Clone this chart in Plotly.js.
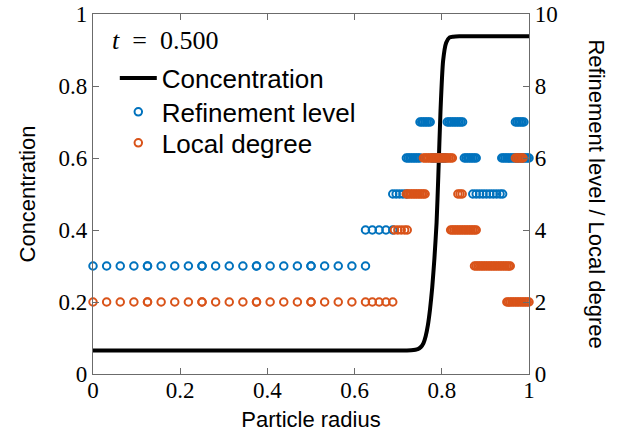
<!DOCTYPE html>
<html>
<head>
<meta charset="utf-8">
<script src="https://cdn.plot.ly/plotly-3.0.1.min.js"></script>
<style>html,body{margin:0;padding:0;background:#fff;}#chart{width:628px;height:443px;}</style>
</head>
<body>
<div id="chart"></div>
<script>
// Concentration profile (left axis)
var concX = [0, 0.70, 0.73, 0.745, 0.752, 0.758, 0.763, 0.768, 0.773, 0.778, 0.783, 0.788, 0.792, 0.797, 0.803, 0.810, 0.818, 0.826, 0.84, 0.9, 1.0];
var concY = [0.065, 0.065, 0.066, 0.069, 0.075, 0.086, 0.105, 0.135, 0.18, 0.24, 0.32, 0.42, 0.55, 0.73, 0.87, 0.92, 0.935, 0.937, 0.938, 0.938, 0.938];

// Refinement level (right axis)
var refX = [
  0, 0.03125, 0.0625, 0.09375, 0.125, 0.125, 0.15625, 0.1875, 0.21875, 0.25, 0.25, 0.28125, 0.3125, 0.34375, 0.375, 0.375, 0.40625, 0.4375, 0.46875, 0.5, 0.5, 0.53125, 0.5625, 0.59375, 0.625,
  0.625, 0.640625, 0.65625, 0.671875, 0.6875,
  0.6875, 0.6953, 0.7031, 0.7109, 0.71875,
  0.71875, 0.7227, 0.7266, 0.7305, 0.7344, 0.7383, 0.7422, 0.7461, 0.75,
  0.75, 0.7539, 0.7578, 0.7617, 0.7656, 0.7695, 0.7734,
  0.7773, 0.7813, 0.7852, 0.7891, 0.793, 0.7969, 0.8008, 0.8047, 0.8086,
  0.8125, 0.8164, 0.8203, 0.8242, 0.8281, 0.832, 0.8359, 0.8398, 0.8438, 0.8477,
  0.8516, 0.8555, 0.8594, 0.8633, 0.8672, 0.8711, 0.875, 0.8789,
  0.8711, 0.8789, 0.8867, 0.8945, 0.9023, 0.9102, 0.918, 0.9258, 0.9336, 0.9395,
  0.9375, 0.9414, 0.9453, 0.9492, 0.9531, 0.957, 0.9609, 0.9648, 0.9688, 0.9727, 0.9766, 0.9805, 0.9844, 0.9883, 0.9922, 0.9961, 1.0,
  0.9688, 0.9727, 0.9766, 0.9805, 0.9844, 0.9883
];
var refLevel = [
  3,3,3,3,3,3,3,3,3,3,3,3,3,3,3,3,3,3,3,3,3,3,3,3,3,
  4,4,4,4,4,
  5,5,5,5,5,
  6,6,6,6,6,6,6,6,6,
  7,7,7,7,7,7,7,
  6,6,6,6,6,6,6,6,6,
  7,7,7,7,7,7,7,7,7,7,
  6,6,6,6,6,6,6,6,
  5,5,5,5,5,5,5,5,5,5,
  6,6,6,6,6,6,6,6,6,6,6,6,6,6,6,6,6,
  7,7,7,7,7,7
];

// Local degree (right axis)
var degX = [
  0, 0.03125, 0.0625, 0.09375, 0.125, 0.125, 0.15625, 0.1875, 0.21875, 0.25, 0.25, 0.28125, 0.3125, 0.34375, 0.375, 0.375, 0.40625, 0.4375, 0.46875, 0.5, 0.5, 0.53125, 0.5625, 0.59375, 0.625,
  0.640625, 0.65625, 0.671875, 0.6875,
  0.6914, 0.6992, 0.707, 0.7148, 0.7207,
  0.7188, 0.7227, 0.7266, 0.7305, 0.7344, 0.7383, 0.7422, 0.7461, 0.75, 0.7539, 0.7578, 0.7617,
  0.7578, 0.7617, 0.7656, 0.7695, 0.7734, 0.7773, 0.7813, 0.7852, 0.7891, 0.793, 0.7969, 0.8008, 0.8047, 0.8086, 0.8125, 0.8164, 0.8203, 0.8242,
  0.8369, 0.8418, 0.8467,
  0.8203, 0.8242, 0.8281, 0.832, 0.8359, 0.8398, 0.8438, 0.8477, 0.8516, 0.8555, 0.8594, 0.8633, 0.8672, 0.8711, 0.875, 0.8789,
  0.875, 0.8789, 0.8828, 0.8867, 0.8906, 0.8945, 0.8984, 0.9023, 0.9063, 0.9102, 0.9141, 0.918, 0.9219, 0.9258, 0.9297, 0.9336, 0.9375, 0.9414, 0.9453, 0.9492, 0.9531, 0.957,
  0.9492, 0.9531, 0.957, 0.9609, 0.9648, 0.9688, 0.9727, 0.9766, 0.9805, 0.9844, 0.9883, 0.9922, 0.9961, 1.0,
  0.9688, 0.9727, 0.9766, 0.9805, 0.9844, 0.9863
];
var degVal = [
  2,2,2,2,2,2,2,2,2,2,2,2,2,2,2,2,2,2,2,2,2,2,2,2,2,
  2,2,2,2,
  4,4,4,4,4,
  5,5,5,5,5,5,5,5,5,5,5,5,
  6,6,6,6,6,6,6,6,6,6,6,6,6,6,6,6,6,6,
  5,5,5,
  4,4,4,4,4,4,4,4,4,4,4,4,4,4,4,4,
  3,3,3,3,3,3,3,3,3,3,3,3,3,3,3,3,3,3,3,3,3,3,
  2,2,2,2,2,2,2,2,2,2,2,2,2,2,
  6,6,6,6,6,6
];

var xTicks = [0, 0.2, 0.4, 0.6, 0.8, 1];
var xTickText = ['0', '0.2', '0.4', '0.6', '0.8', '1'];
var yTicks = [0, 0.2, 0.4, 0.6, 0.8, 1];
var yTickText = ['0', '0.2', '0.4', '0.6', '0.8', '1'];
var y2Ticks = [0, 2, 4, 6, 8, 10];
var y2TickText = ['0', '2', '4', '6', '8', '10'];

var blue = '#0072BD', orange = '#D95319', axisGray = '#6b6b6b';
var tickFont = {family: 'Liberation Serif, serif', size: 23, color: '#000'};
var titleFont = {family: 'Liberation Sans, Arial, sans-serif', size: 22, color: '#000'};
var legendFont = {family: 'Liberation Sans, Arial, sans-serif', size: 26, color: '#000'};

function legendAt(yc) {
  return {x: 0.05, y: yc, xanchor: 'left', yanchor: 'middle', bgcolor: 'rgba(0,0,0,0)', borderwidth: 0,
          itemwidth: 37, font: legendFont};
}

var traces = [
  {x: refX, y: refLevel, yaxis: 'y2', type: 'scatter', mode: 'markers', name: 'Refinement level', legend: 'legend2',
   cliponaxis: false,
   marker: {symbol: 'circle-open', size: 7.5, color: blue, line: {width: 2, color: blue}}},
  {x: degX, y: degVal, yaxis: 'y2', type: 'scatter', mode: 'markers', name: 'Local degree', legend: 'legend3',
   cliponaxis: false,
   marker: {symbol: 'circle-open', size: 7.5, color: orange, line: {width: 2, color: orange}}},
  {x: concX, y: concY, type: 'scatter', mode: 'lines', name: 'Concentration', legend: 'legend',
   line: {color: '#000', width: 4, shape: 'spline', smoothing: 0.6}}
];

var layout = {
  width: 628, height: 443,
  margin: {l: 93, r: 99, t: 14, b: 69, pad: 0},
  paper_bgcolor: '#fff', plot_bgcolor: '#fff',
  showlegend: true,
  legend: legendAt(0.822),
  legend2: legendAt(0.728),
  legend3: legendAt(0.642),
  xaxis: {range: [0, 1], tickvals: xTicks, ticktext: xTickText, ticks: 'inside', ticklen: 6, tickcolor: axisGray,
          showline: true, linecolor: axisGray, linewidth: 1.2, mirror: 'ticks', showgrid: false, zeroline: false,
          ticklabelstandoff: -5,
          tickfont: tickFont, title: {text: 'Particle radius', font: titleFont, standoff: 9}},
  yaxis: {range: [0, 1], tickvals: yTicks, ticktext: yTickText, ticks: 'inside', ticklen: 6, tickcolor: axisGray,
          showline: true, linecolor: axisGray, linewidth: 1.2, showgrid: false, zeroline: false,
          tickfont: tickFont, title: {text: 'Concentration', font: titleFont, standoff: 16}},
  yaxis2: {range: [0, 10], overlaying: 'y', side: 'right', tickvals: y2Ticks, ticktext: y2TickText, ticks: 'inside', ticklen: 6,
           tickcolor: axisGray, showline: true, linecolor: axisGray, linewidth: 1.2, showgrid: false, zeroline: false,
           tickfont: tickFont},
  annotations: [
    {xref: 'paper', yref: 'paper', x: 0.04, y: 0.925, xanchor: 'left', yanchor: 'middle', showarrow: false,
     text: '<i>t</i>&nbsp;&nbsp;=&nbsp;&nbsp;0.500', font: {family: 'Liberation Serif, serif', size: 26, color: '#000'}},
    {xref: 'paper', yref: 'paper', x: 1.155, y: 0.5, xanchor: 'center', yanchor: 'middle', showarrow: false, textangle: 90,
     text: 'Refinement level / Local degree', font: titleFont}
  ]
};

Plotly.newPlot('chart', traces, layout, {staticPlot: true});
</script>
</body>
</html>
